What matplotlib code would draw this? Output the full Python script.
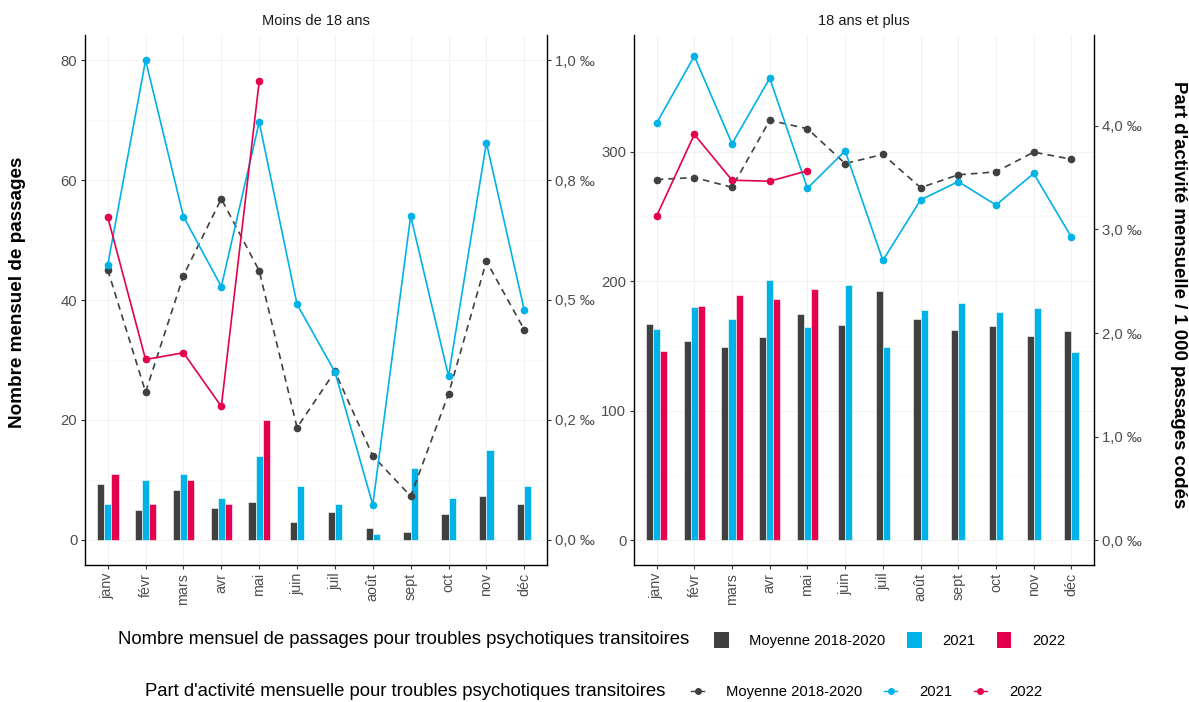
import matplotlib
matplotlib.use("Agg")
import matplotlib.pyplot as plt
import numpy as np
from matplotlib.patches import Patch
from matplotlib.lines import Line2D

plt.rcParams['font.family'] = ['Liberation Sans', 'DejaVu Sans']

months = ["janv", "févr", "mars", "avr", "mai", "juin", "juil", "août", "sept", "oct", "nov", "déc"]

# Moins de 18 ans : nombre mensuel de passages
young_count_moy = [9.3, 5.0, 8.3, 5.3, 6.3, 3.0, 4.7, 2.0, 1.3, 4.3, 7.3, 6.0]
young_count_2021 = [6, 10, 11, 7, 14, 9, 6, 1, 12, 7, 15, 9]
young_count_2022 = [11, 6, 10, 6, 20]
# Moins de 18 ans : part d'activité (‰)
young_rate_moy = [0.563, 0.308, 0.551, 0.711, 0.561, 0.234, 0.351, 0.175, 0.091, 0.304, 0.581, 0.438]
young_rate_2021 = [0.573, 1.000, 0.674, 0.528, 0.871, 0.491, 0.350, 0.073, 0.675, 0.341, 0.828, 0.479]
young_rate_2022 = [0.673, 0.376, 0.390, 0.278, 0.956]

# 18 ans et plus : nombre mensuel de passages
adult_count_moy = [167, 154, 149.5, 157, 174.4, 166, 192.8, 170.8, 162, 165.3, 157.6, 161.4]
adult_count_2021 = [163, 180, 171, 201, 165, 197, 149, 178, 183, 176, 179, 145.4]
adult_count_2022 = [146, 181, 189, 186, 194]
# 18 ans et plus : part d'activité (‰)
adult_rate_moy = [3.481, 3.500, 3.406, 4.052, 3.971, 3.635, 3.723, 3.403, 3.526, 3.555, 3.745, 3.677]
adult_rate_2021 = [4.026, 4.671, 3.826, 4.458, 3.397, 3.758, 2.700, 3.284, 3.461, 3.235, 3.539, 2.926]
adult_rate_2022 = [3.129, 3.916, 3.474, 3.465, 3.565]

panel_titles = ["Moins de 18 ans", "18 ans et plus"]
series_labels = ["Moyenne 2018-2020", "2021", "2022"]
young_right_ticks = [0, 0.25, 0.5, 0.75, 1.0]
young_right_labels = ["0,0 ‰", "0,2 ‰", "0,5 ‰", "0,8 ‰", "1,0 ‰"]
adult_right_ticks = [0, 1, 2, 3, 4]
adult_right_labels = ["0,0 ‰", "1,0 ‰", "2,0 ‰", "3,0 ‰", "4,0 ‰"]

C_DARK = "#404040"
C_BLUE = "#00B2E5"
C_RED = "#E5004F"
colors = [C_DARK, C_BLUE, C_RED]
SCALE = 80.0  # 1 ‰ = 80 passages on the primary axis
TICK_C = "#4d4d4d"

W, H = 1189, 702
fig = plt.figure(figsize=(W / 100, H / 100), dpi=100)


def px_axes(x0, x1, y0, y1):
    return fig.add_axes([x0 / W, 1 - y1 / H, (x1 - x0) / W, (y1 - y0) / H])


def draw_panel(ax, counts, rates, ylim, rticks, rlabels, yticks, title):
    x = np.arange(1, 13)
    bw = 0.19
    for m in range(12):
        present = [(k, c[m]) for k, c in enumerate(counts) if m < len(c)]
        n = len(present)
        for j, (k, v) in enumerate(present):
            ax.bar(x[m] + (j - (n - 1) / 2) * bw, v, width=bw, color=colors[k],
                   edgecolor="white", linewidth=0.4, zorder=2)
    ax.set_xlim(0.4, 12.6)
    ax.set_ylim(*ylim)
    ax.set_xticks(x)
    ax.set_xticklabels(months, rotation=90, fontsize=10.3, color=TICK_C)
    ax.set_yticks(yticks)
    ax.set_yticklabels([str(t) for t in yticks], fontsize=10.7, color=TICK_C)
    ax.set_yticks(np.array(yticks[:-1]) + (yticks[1] - yticks[0]) / 2, minor=True)
    ax.grid(True, which="major", color="#f0f0f0", lw=0.6, zorder=0)
    ax.grid(True, which="minor", axis="y", color="#f7f7f7", lw=0.5, zorder=0)
    ax.set_axisbelow(True)
    ax.tick_params(axis="y", which="minor", length=0)
    ax.tick_params(axis="both", which="major", length=3, width=0.8, color="#333333", pad=2.5)
    for s in ["top", "right"]:
        ax.spines[s].set_visible(False)
    ax.spines["left"].set_linewidth(1.0)
    ax.spines["bottom"].set_linewidth(1.0)
    ax.set_title(title, fontsize=10.5, color="#1a1a1a", pad=7)

    ax2 = ax.twinx()
    ax2.set_ylim(ylim[0] / SCALE, ylim[1] / SCALE)
    for k, r in enumerate(rates):
        xs = x[:len(r)]
        ls = (0, (4, 3)) if k == 0 else "-"
        ax2.plot(xs, r, color=colors[k], lw=1.2, ls=ls, marker="o", ms=4.5,
                 zorder=3)
    ax2.set_yticks(rticks)
    ax2.set_yticklabels(rlabels, fontsize=10.7, color=TICK_C)
    ax2.tick_params(axis="y", length=3, width=0.8, color="#333333", pad=2.5)
    for s in ["top", "left", "bottom"]:
        ax2.spines[s].set_visible(False)
    ax2.spines["right"].set_linewidth(1.0)
    return ax2


ax_l = px_axes(85, 547, 35, 565)
draw_panel(ax_l, [young_count_moy, young_count_2021, young_count_2022],
           [young_rate_moy, young_rate_2021, young_rate_2022],
           (-4.2, 84.2), young_right_ticks, young_right_labels,
           [0, 20, 40, 60, 80], panel_titles[0])

ax_r = px_axes(634, 1094, 35, 565)
draw_panel(ax_r, [adult_count_moy, adult_count_2021, adult_count_2022],
           [adult_rate_moy, adult_rate_2021, adult_rate_2022],
           (-19.0, 390.0), adult_right_ticks, adult_right_labels,
           [0, 100, 200, 300], panel_titles[1])

fig.text(18 / W, 1 - 292 / H, "Nombre mensuel de passages", rotation=90,
         ha="center", va="center", fontsize=13.6, fontweight="bold", color="#000000")
fig.text(1178 / W, 1 - 295 / H, "Part d'activité mensuelle / 1 000 passages codés",
         rotation=-90, ha="center", va="center", fontsize=13.4, fontweight="bold",
         color="#000000")

# Legend row 1 (bars)
y1 = 1 - 640 / H
fig.text(118 / W, y1, "Nombre mensuel de passages pour troubles psychotiques transitoires",
         ha="left", va="center", fontsize=13.3, color="#000000")
h1 = [Patch(facecolor=c, edgecolor="none") for c in colors]
fig.legend(h1, series_labels, loc="center left", bbox_to_anchor=(714 / W, y1),
           ncol=3, frameon=False, fontsize=10.6, handlelength=1.0, handleheight=1.25,
           handletextpad=1.4, columnspacing=1.45, borderpad=0, borderaxespad=0)

# Legend row 2 (lines)
y2 = 1 - 692 / H
fig.text(145 / W, y2, "Part d'activité mensuelle pour troubles psychotiques transitoires",
         ha="left", va="center", fontsize=13.3, color="#000000")
h2 = [Line2D([0], [0], color=c, lw=1.0, marker="o", ms=4) for c in colors]
fig.legend(h2, series_labels, loc="center left", bbox_to_anchor=(691 / W, y2),
           ncol=3, frameon=False, fontsize=10.6, handlelength=0.9,
           handletextpad=1.5, columnspacing=1.45, borderpad=0, borderaxespad=0)

fig.savefig("out.png", dpi=100)
